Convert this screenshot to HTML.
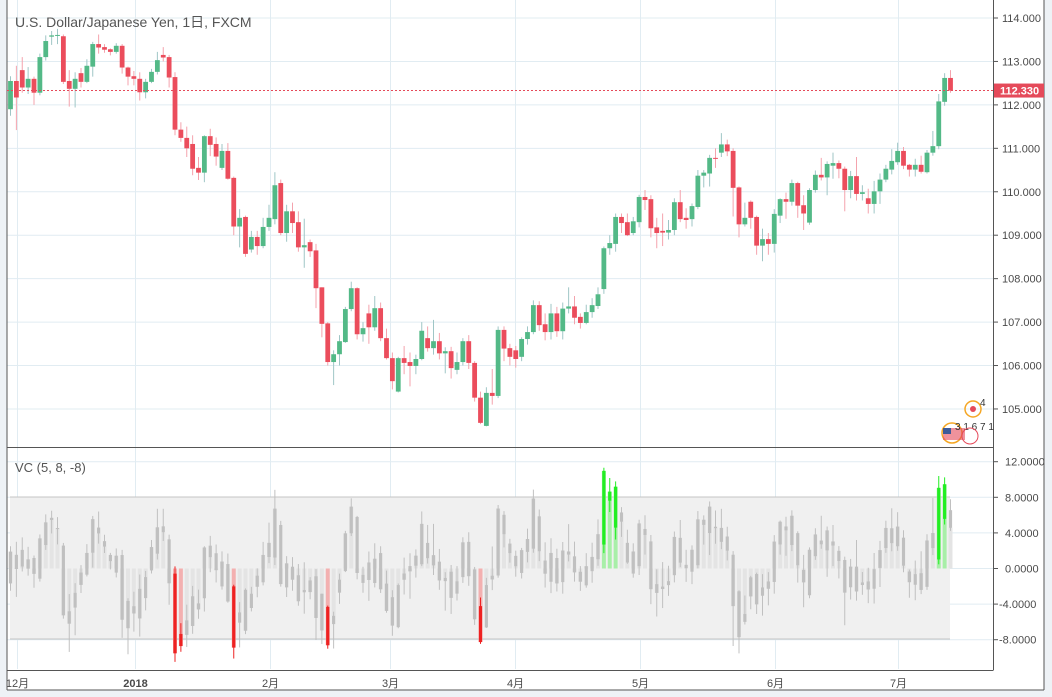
<!DOCTYPE html>
<html><head><meta charset="utf-8">
<style>
html,body{margin:0;padding:0;background:#eef2f6;}
body{width:1052px;height:697px;overflow:hidden;font-family:"Liberation Sans","Noto Sans CJK JP",sans-serif;}
svg{position:absolute;left:0;top:0;}
</style></head>
<body>
<svg id="chart" width="1052" height="697" xmlns="http://www.w3.org/2000/svg">
<rect x="7" y="0" width="1037" height="690" fill="#ffffff"/>
<g id="grid"></g>
<rect x="10" y="497" width="940" height="142" fill="#f0f0f0"/>
<line x1="10" y1="497" x2="950" y2="497" stroke="#c4c4c4"/>
<line x1="10" y1="639" x2="950" y2="639" stroke="#c4c4c4"/>
<g id="vc"></g>
<g id="candles"></g>
<g id="axes"></g>
<text x="15" y="27" font-size="14" fill="#555">U.S. Dollar/Japanese Yen, 1日, FXCM</text>
<text x="15" y="472" font-size="13" fill="#555">VC (5, 8, -8)</text>
<g>
<circle cx="973" cy="409" r="8" fill="none" stroke="#f5a623" stroke-width="1.5"/>
<circle cx="973" cy="409" r="3" fill="#e54a5a"/>
<text x="980" y="406" font-size="10" fill="#333">4</text>
<circle cx="952" cy="433" r="10" fill="none" stroke="#f5a623" stroke-width="1.5"/>
<rect x="943" y="428" width="22" height="12" fill="#e54a5a" opacity="0.6"/>
<rect x="943" y="428" width="8" height="6" fill="#3c5a9a"/>
<text x="955" y="430" font-size="10" fill="#333">3 1 6 7 1</text>
<circle cx="970" cy="436" r="8" fill="none" stroke="#e54a5a" stroke-width="1"/>
</g>
</svg>
<script>
const opens=[111.90,112.55,112.80,112.40,112.60,112.28,113.10,113.57,113.60,113.58,112.55,112.37,112.73,112.53,112.88,113.40,113.33,113.28,113.22,113.36,112.86,112.66,112.60,112.29,112.53,112.76,113.15,113.10,112.64,111.43,111.24,111.10,110.55,110.44,111.28,111.10,110.55,110.94,110.32,109.20,109.42,108.67,108.96,108.75,109.19,109.37,110.20,109.05,109.55,109.30,108.72,108.84,108.65,107.80,106.97,106.08,106.26,106.54,107.30,107.78,106.72,107.20,106.88,107.32,106.63,106.17,105.40,106.17,106.08,105.99,106.15,106.63,106.40,106.56,106.28,106.33,105.90,106.08,106.56,106.06,105.26,104.61,105.37,105.30,106.82,106.40,106.35,106.20,106.61,106.77,107.39,106.95,106.77,107.20,106.79,107.31,107.36,107.12,106.98,107.23,107.37,107.76,108.70,108.80,109.42,109.30,109.05,109.30,109.88,109.83,109.18,109.10,109.06,109.12,109.76,109.40,109.37,109.65,110.37,110.42,110.78,110.90,111.09,110.94,110.10,109.25,109.77,109.42,108.76,108.91,108.80,109.45,109.83,109.77,110.20,109.69,109.29,110.04,110.39,110.33,110.60,110.66,110.53,110.04,110.36,109.95,109.85,109.72,110.01,110.28,110.51,110.68,110.94,110.62,110.51,110.62,110.45,110.90,111.05,112.07,112.62];
const closes=[112.55,112.17,112.40,112.60,112.28,113.10,113.47,113.60,113.61,112.53,112.37,112.60,112.53,112.90,113.40,113.32,113.27,113.22,113.36,112.86,112.65,112.60,112.29,112.53,112.76,113.03,113.09,112.63,111.43,111.24,111.00,110.53,110.44,111.28,111.08,110.81,110.94,110.30,109.20,109.40,108.57,108.96,108.75,109.19,109.40,110.15,109.05,109.55,109.28,108.72,108.77,108.63,107.78,106.96,106.08,106.26,106.56,107.30,107.78,106.72,106.86,106.88,107.32,106.63,106.17,105.64,106.17,106.06,105.99,106.15,106.80,106.40,106.56,106.28,106.33,105.94,106.08,106.56,106.06,105.26,104.68,105.37,105.30,106.82,106.39,106.20,106.15,106.61,106.77,107.39,106.93,106.77,107.20,106.79,107.31,107.36,107.10,106.98,107.23,107.39,107.64,108.70,108.82,109.42,109.28,109.00,109.32,109.88,109.81,109.16,109.05,109.06,109.12,109.76,109.37,109.35,109.67,110.37,110.44,110.78,110.76,111.09,110.93,110.09,109.25,109.40,109.40,108.76,108.91,108.80,109.49,109.83,109.77,110.20,109.68,109.50,110.04,110.39,110.33,110.64,110.66,110.53,110.04,110.36,109.95,109.99,109.72,110.01,110.28,110.53,110.71,110.94,110.60,110.51,110.62,110.46,110.90,111.05,112.08,112.62,112.33];
const highs=[112.66,112.90,113.10,112.87,112.65,113.18,113.60,113.70,113.75,113.62,112.80,112.75,112.85,113.05,113.45,113.62,113.40,113.30,113.42,113.40,112.88,112.78,112.75,112.60,112.83,113.22,113.33,113.15,112.75,111.60,111.50,111.30,110.80,111.30,111.45,111.25,111.10,111.12,110.35,109.60,109.45,109.10,109.10,109.40,109.70,110.45,110.28,109.70,109.75,109.55,109.38,108.90,108.80,107.80,107.00,106.35,106.70,107.35,107.93,107.80,107.00,107.40,107.60,107.45,106.85,106.30,106.20,106.45,106.30,106.25,107.00,106.90,107.05,106.75,106.42,106.43,106.30,106.63,106.70,106.10,105.40,105.50,105.92,106.90,106.90,106.50,106.45,106.65,106.90,107.50,107.48,107.20,107.42,107.35,107.45,107.80,107.60,107.20,107.40,107.55,107.80,108.74,109.00,109.50,109.50,109.50,109.42,109.93,110.04,109.92,109.40,109.50,109.35,109.85,110.04,109.62,109.73,110.50,110.50,110.85,111.00,111.35,111.20,111.00,110.12,109.75,109.80,109.45,109.15,109.05,109.60,109.85,109.98,110.28,110.23,109.92,110.08,110.49,110.78,110.70,110.90,110.72,110.58,110.48,110.80,110.15,110.07,110.25,110.42,110.62,110.98,111.13,111.03,110.64,110.76,110.83,110.96,111.40,112.25,112.73,112.80];
const lows=[111.75,111.42,112.28,112.25,112.00,112.22,113.02,113.38,113.40,112.48,111.96,111.94,112.40,112.50,112.65,113.18,113.20,113.14,113.18,112.72,112.45,112.45,112.10,112.15,112.50,112.70,113.00,112.40,111.30,111.15,110.80,110.38,110.27,110.22,110.82,110.60,110.50,110.28,109.00,108.72,108.50,108.60,108.55,108.70,109.10,109.25,109.00,108.85,109.05,108.62,108.25,108.50,107.32,106.65,106.00,105.55,106.00,106.52,107.25,106.60,106.55,106.50,106.80,106.56,106.14,105.45,105.38,105.80,105.52,105.80,106.12,106.32,106.25,106.14,105.82,105.70,105.80,106.00,105.92,105.17,104.65,104.60,105.10,105.25,106.10,106.00,105.95,106.10,106.48,106.72,106.80,106.58,106.60,106.66,106.60,107.20,106.95,106.85,106.95,107.10,107.30,107.65,108.55,108.62,109.05,108.98,109.00,109.18,109.58,108.95,108.70,108.75,108.90,109.00,109.30,109.15,109.20,109.60,110.10,110.12,110.55,110.80,110.82,109.43,108.95,109.20,109.15,108.55,108.40,108.55,108.60,109.28,109.38,109.68,109.40,109.12,109.24,109.98,110.26,109.92,110.30,110.31,109.55,109.85,109.80,109.80,109.50,109.50,109.72,110.22,110.40,110.62,110.52,110.35,110.35,110.42,110.42,110.83,110.98,111.98,112.28];
const priceTicks=[114,113,112,111,110,109,108,107,106,105];
const vcTicks=[12,8,4,0,-4,-8];
const monthLabels=["12月","2018","2月","3月","4月","5月","6月","7月"];
const monthIndex=[1.1,21.2,44.2,64.6,85.9,107.1,130.1,151.0];
const lastPrice=112.330;

const NS="http://www.w3.org/2000/svg";
const xOf=i=>10.5+i*5.875;
const yP=p=>18+(114-p)*43.44;
const yV=v=>568.5-v*8.9;
function mk(tag,attrs,parent){const e=document.createElementNS(NS,tag);for(const k in attrs)e.setAttribute(k,attrs[k]);parent.appendChild(e);return e;}
const grid=document.getElementById('grid'),axes=document.getElementById('axes'),cg=document.getElementById('candles'),vg=document.getElementById('vc');

monthIndex.forEach((mi,k)=>{
  const x=Math.round(xOf(mi))+0.5;
  const l=mk('line',{x1:x,y1:0,x2:x,y2:669,stroke:'#e1ecf2'},grid);
  
  
  const t=mk('text',{x:x,y:687,'font-size':11,fill:'#4a4a4a','text-anchor':'middle','font-weight':k===1?'bold':'normal'},axes);
  t.textContent=monthLabels[k];
  
  
});
priceTicks.forEach(p=>{
  const y=yP(p);
  const l=mk('line',{x1:7,y1:y,x2:993,y2:y,stroke:'#e1ecf2'},grid);
  
  
  mk('line',{x1:993,y1:y,x2:998,y2:y,stroke:'#555'},axes);
  const t=mk('text',{x:1002,y:y+4,'font-size':11,fill:'#4a4a4a'},axes);
  t.textContent=p.toFixed(3);
  
  
});
vcTicks.forEach(v=>{
  const y=yV(v);
  const l=mk('line',{x1:7,y1:y,x2:993,y2:y,stroke:'#e1ecf2'},grid);
  
  
  mk('line',{x1:993,y1:y,x2:998,y2:y,stroke:'#555'},axes);
  const t=mk('text',{x:v<0?999:1005,y:y+4,'font-size':11,fill:'#4a4a4a'},axes);
  t.textContent=v.toFixed(4);
  
  
});
mk('line',{x1:7,y1:0,x2:7,y2:690,stroke:'#555'},axes);
mk('line',{x1:993.5,y1:0,x2:993.5,y2:670,stroke:'#555'},axes);
mk('line',{x1:7,y1:447.5,x2:993,y2:447.5,stroke:'#555'},axes);
mk('line',{x1:7,y1:670.5,x2:993.5,y2:670.5,stroke:'#555'},axes);
mk('line',{x1:1044,y1:0,x2:1044,y2:690,stroke:'#555'},axes);
mk('line',{x1:7,y1:690,x2:1044,y2:690,stroke:'#555'},axes);

const ly=yP(lastPrice);
const dl=mk('line',{x1:7,y1:ly,x2:993,y2:ly,stroke:'#e54a5a','stroke-dasharray':'2,2'},axes);


const lb=mk('rect',{x:994,y:ly-7,width:50,height:14,fill:'#e54a5a'},axes);


const lt=mk('text',{x:1000,y:ly+4,'font-size':11,fill:'#fff','font-weight':'bold'},axes);
lt.textContent=lastPrice.toFixed(3);



for(let i=0;i<closes.length;i++){
  const up=closes[i]>=opens[i];
  const x=xOf(i);
  const w=mk('line',{x1:x,y1:yP(highs[i]),x2:x,y2:yP(lows[i]),stroke:up?'#9fc6c6':'#f4a3ad','stroke-width':1},cg);
  
  
  const top=yP(Math.max(opens[i],closes[i])),bot=yP(Math.min(opens[i],closes[i]));
  const b=mk('rect',{x:x-2.4,y:top,width:4.8,height:Math.max(1,bot-top),fill:up?'#53b987':'#eb4d5c'},cg);
  
  
}

for(let i=0;i<closes.length;i++){
  const s=Math.max(0,i-4);let mid=0,rng=0,n=0;
  for(let j=s;j<=i;j++){mid+=(highs[j]+lows[j])/2;rng+=highs[j]-lows[j];n++;}
  mid/=n;const unit=0.2*rng/n||0.01;
  const vo=(opens[i]-mid)/unit,vh=(highs[i]-mid)/unit,vl=(lows[i]-mid)/unit,vcl=(closes[i]-mid)/unit;
  const x=xOf(i);
  const hi=Math.max(vo,vcl),lo=Math.min(vo,vcl);
  let col='#c0c0c0',lite='#e4e4e4';
  if(hi>8){col='#22ee22';lite='#a8efa8';}
  if(lo<-8){col='#ee2222';lite='#f3b0b0';}
  const hb=mk('rect',{x:x-2,y:Math.min(yV(0),yV(vcl)),width:4,height:Math.abs(yV(vcl)-yV(0)),fill:lite},vg);
  
  
  const wl=mk('line',{x1:x,y1:yV(vh),x2:x,y2:yV(vl),stroke:col,'stroke-width':1},vg);
  
  
  const r=mk('rect',{x:x-1.6,y:yV(hi),width:3.2,height:Math.max(1,yV(lo)-yV(hi)),fill:col},vg);
  
  
}
</script>
</body></html>
